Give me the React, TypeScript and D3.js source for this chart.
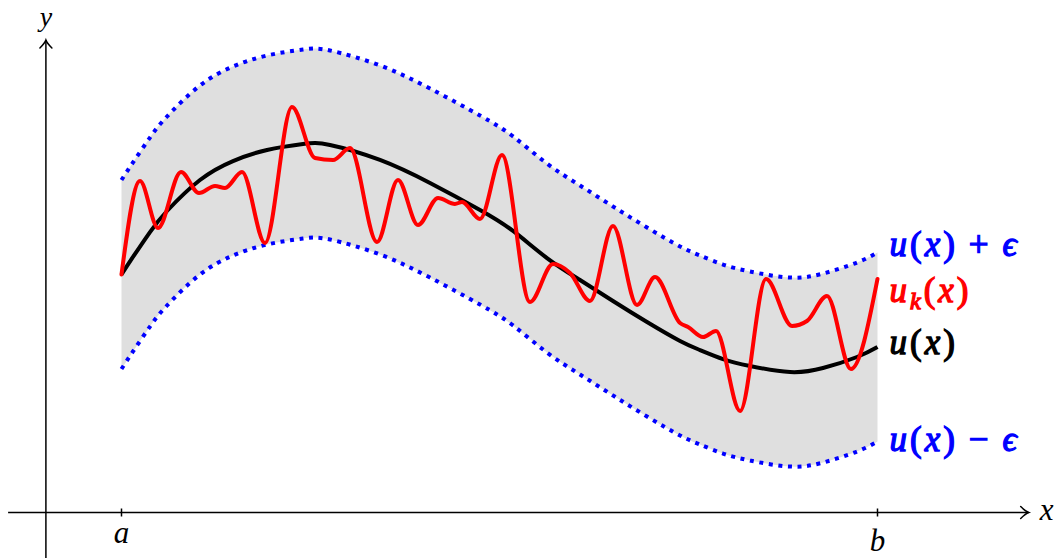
import React from 'react'
import * as d3 from 'd3'

// u(x): the smooth reference function
const uX = [0, 0.152, 0.377, 0.602, 1.038, 1.475, 1.925, 2.401, 2.758, 3.419, 4.081, 4.742, 5.179, 5.628, 6.065, 6.501, 6.951, 7.388, 7.652, 7.956, 8.313, 8.843, 9.279, 9.729, 10]
const uY = [3.148, 3.38, 3.71, 3.988, 4.398, 4.649, 4.795, 4.874, 4.861, 4.663, 4.358, 4.001, 3.724, 3.366, 3.075, 2.798, 2.52, 2.269, 2.149, 2.03, 1.938, 1.858, 1.911, 2.057, 2.189]

// u_k(x): the oscillating approximation
const ukX = [0, 0.245, 0.483, 0.787, 1.025, 1.237, 1.369, 1.594, 1.898, 2.255, 2.56, 2.798, 3.022, 3.38, 3.657, 3.922, 4.187, 4.411, 4.504, 4.742, 5.033, 5.403, 5.708, 5.933, 6.197, 6.501, 6.819, 7.057, 7.388, 7.494, 7.692, 7.864, 8.182, 8.525, 8.869, 9.067, 9.332, 9.649, 10]
const ukY = [3.148, 4.385, 3.763, 4.504, 4.226, 4.319, 4.292, 4.504, 3.565, 5.364, 4.689, 4.663, 4.821, 3.578, 4.398, 3.803, 4.16, 4.081, 4.107, 3.882, 4.729, 2.784, 3.287, 3.168, 2.798, 3.79, 2.745, 3.115, 2.507, 2.454, 2.321, 2.401, 1.343, 3.089, 2.467, 2.533, 2.864, 1.898, 3.089]

const EPS = 1.25
const A = 0
const B = 10

const width = 1061
const height = 558

const x = d3.scaleLinear().domain([A, B]).range([121.5, 877.5])
const y = d3.scaleLinear().domain([0, 6.25]).range([512.5, 40])

const uData = uX.map((v, i) => ({ x: v, y: uY[i] }))
const ukData = ukX.map((v, i) => ({ x: v, y: ukY[i] }))

const band = d3
  .area<{ x: number; y: number }>()
  .x(d => x(d.x))
  .y0(d => y(d.y - EPS))
  .y1(d => y(d.y + EPS))
  .curve(d3.curveNatural)

const shifted = (off: number) =>
  d3
    .line<{ x: number; y: number }>()
    .x(d => x(d.x))
    .y(d => y(d.y + off))
    .curve(d3.curveNatural)

const uLine = shifted(0)
const ukLine = d3
  .line<{ x: number; y: number }>()
  .x(d => x(d.x))
  .y(d => y(d.y))
  .curve(d3.curveMonotoneX)

const serif = "'Liberation Serif', 'Times New Roman', Tinos, 'DejaVu Serif', 'Noto Serif', serif"

// bold look is faked with a thin stroke of the same colour
const Label = ({ px, py, color, sub, sign }: { px: number; py: number; color: string; sub?: boolean; sign?: string }) => (
  <text
    x={px}
    y={py}
    fill={color}
    stroke={color}
    strokeWidth={1.3}
    style={{ fontFamily: serif }}
    fontSize={35}
    letterSpacing={3}
  >
    <tspan fontStyle="italic">u</tspan>
    {sub && (
      <tspan fontStyle="italic" fontSize={24} dy={7}>
        k
      </tspan>
    )}
    <tspan dy={sub ? -7 : 0}>(</tspan>
    <tspan fontStyle="italic">x</tspan>
    <tspan>)</tspan>
    {sign && <tspan dx={11}>{sign}</tspan>}
    {sign && (
      <tspan fontStyle="italic" dx={11}>
        ϵ
      </tspan>
    )}
  </text>
)

const arrowX = (tx: number, ty: number) =>
  `M${tx - 8},${ty - 6} Q${tx - 3},${ty - 1} ${tx},${ty} Q${tx - 3},${ty + 1} ${tx - 8},${ty + 6}`
const arrowY = (tx: number, ty: number) =>
  `M${tx - 6},${ty + 8} Q${tx - 1},${ty + 3} ${tx},${ty} Q${tx + 1},${ty + 3} ${tx + 6},${ty + 8}`

const App = () => {
  const uEnd = uY[uY.length - 1]
  const ukEnd = ukY[ukY.length - 1]
  const x0 = x(-1.5)
  const x1 = x(12)
  const y0 = y(-0.65)
  const y1 = y(6.25)
  return (
    <svg
      width={width}
      height={height}
      viewBox={`0,0,${width},${height}`}
      style={{ position: 'absolute', left: 0, top: 0, background: '#fff' }}
    >
      <path d={band(uData) || ''} fill="#dfdfdf" />
      <path
        d={shifted(EPS)(uData) || ''}
        fill="none"
        stroke="#0000ff"
        strokeWidth={4}
        strokeDasharray="4 5.6"
      />
      <path
        d={shifted(-EPS)(uData) || ''}
        fill="none"
        stroke="#0000ff"
        strokeWidth={4}
        strokeDasharray="4 5.6"
      />
      <path d={uLine(uData) || ''} fill="none" stroke="#000" strokeWidth={4} />
      <path
        d={ukLine(ukData) || ''}
        fill="none"
        stroke="#ff0000"
        strokeWidth={4}
        strokeLinejoin="round"
        strokeLinecap="round"
      />

      {/* axes */}
      <g stroke="#000" strokeWidth={1.5} fill="none">
        <line x1={x0} y1={y(0)} x2={x1} y2={y(0)} />
        <path d={arrowX(x1, y(0))} strokeLinecap="round" />
        <line x1={x(-1)} y1={y0} x2={x(-1)} y2={y1} />
        <path d={arrowY(x(-1), y1)} strokeLinecap="round" />
        <line x1={x(A)} y1={y(0) - 4} x2={x(A)} y2={y(0) + 4} />
        <line x1={x(B)} y1={y(0) - 4} x2={x(B)} y2={y(0) + 4} />
      </g>
      <g style={{ fontFamily: serif }} fontStyle="italic" fontSize={31} textAnchor="middle">
        <text x={x(A)} y={543}>a</text>
        <text x={x(B)} y={551}>b</text>
        <text x={x(-1)} y={26} fontSize={28}>y</text>
        <text x={x1 + 18} y={y(0) + 7}>x</text>
      </g>

      <Label px={x(B) + 12} py={y(uEnd + EPS) + 3} color="#0000ff" sign="+" />
      <Label px={x(B) + 12} py={y(ukEnd) + 23} color="#ff0000" sub />
      <Label px={x(B) + 12} py={y(uEnd) + 7} color="#000" />
      <Label px={x(B) + 12} py={y(uEnd - EPS) + 9} color="#0000ff" sign="−" />
    </svg>
  )
}

export default App
